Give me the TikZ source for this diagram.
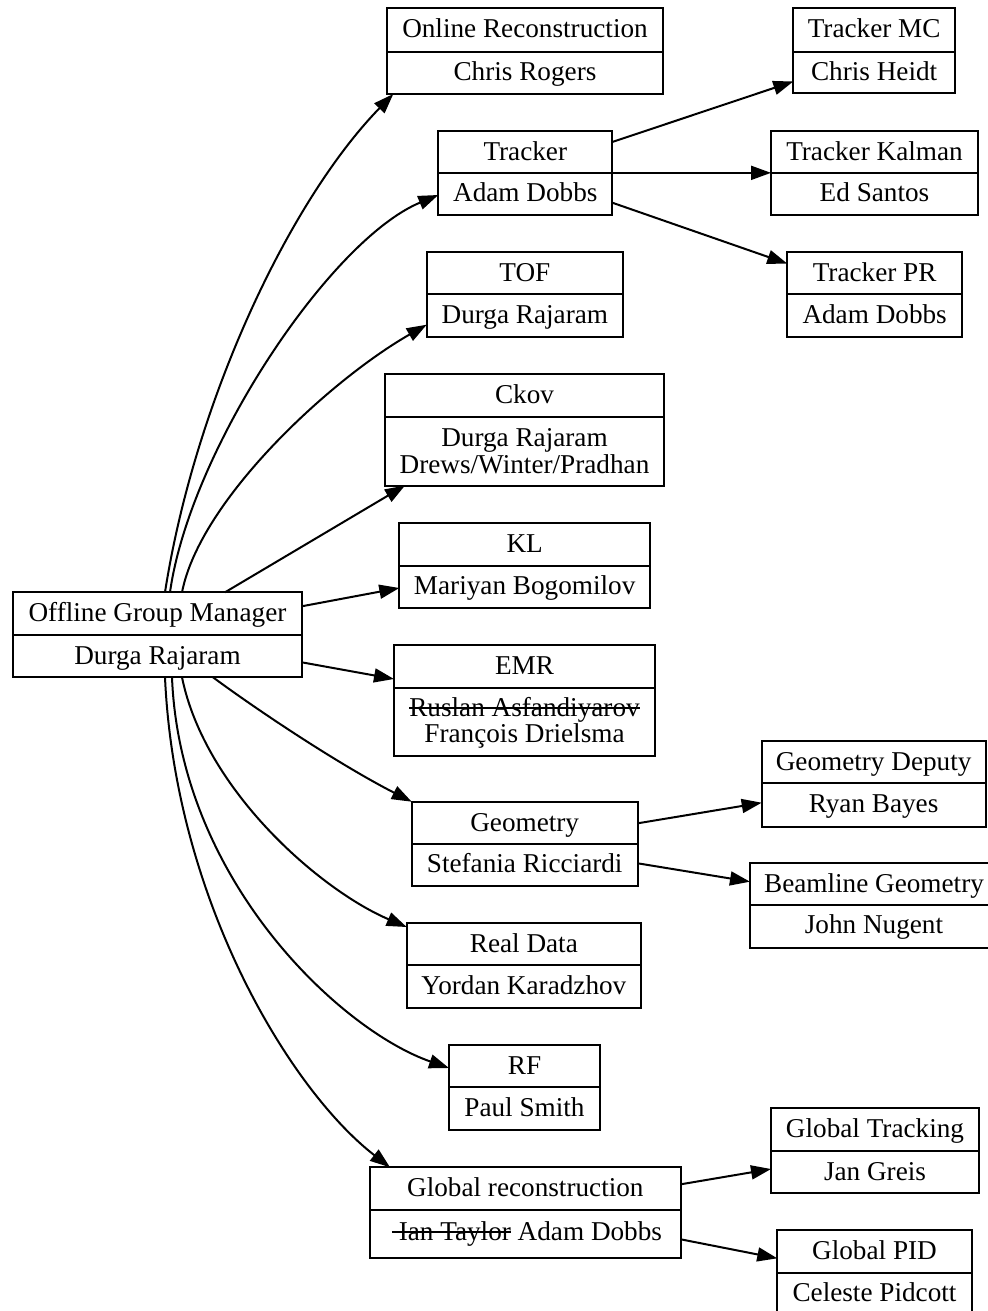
\documentclass[tikz,border=0pt]{standalone}
\usepackage{fontspec}
\setmainfont{Liberation Serif}
\usetikzlibrary{fit,calc,arrows.meta}
\newsavebox\strkbox
\newcommand\strk[1]{\sbox\strkbox{#1}\rlap{\rule[0.27em]{\wd\strkbox}{0.85pt}}\usebox\strkbox}
% name, x1, y1, ydiv, x2, y2, top text, bottom text
\newcommand\rbox[8]{%
  \node[boxst, fit={(#2,#3)(#5,#6)}] (#1) {};
  \draw[line width=1pt] (#2,#4) -- (#5,#4);
  \node[lbl] at ({(#2+#5)/2},{#3+29.5}) {#7};
  \node[lbl] at ({(#2+#5)/2},{#4+29}) {#8};
}
\tikzset{
  boxst/.style={draw, line width=1pt, inner sep=0pt, outer sep=0pt},
  lbl/.style={anchor=base, inner sep=0pt, font=\fontsize{13.6}{16}\selectfont},
  conn/.style={line width=1pt, -{Triangle[length=10pt,width=7pt]}},
}
\begin{document}
\begin{tikzpicture}[x=0.5pt,y=-0.5pt]
\useasboundingbox (0,0) rectangle (987,1311);
\rbox{onl}{387.3}{8.3}{51.7}{662.7}{94}{Online Reconstruction}{Chris Rogers}
\rbox{mc}{793.3}{8.3}{51.7}{955}{93.5}{Tracker MC}{Chris Heidt}
\rbox{trk}{438.3}{130.7}{172.8}{612.3}{215}{Tracker}{Adam Dobbs}
\rbox{kal}{771}{130.7}{172.8}{978}{215}{Tracker Kalman}{Ed Santos}
\rbox{tof}{426.7}{252}{294.3}{623}{336.7}{TOF}{Durga Rajaram}
\rbox{pr}{787.3}{252}{294.3}{962}{336.7}{Tracker PR}{Adam Dobbs}
\rbox{ckov}{385}{374}{416.7}{664}{485.5}{Ckov}{}
\node[lbl] at (524.5,446.5) {Durga Rajaram};
\node[lbl] at (524.5,473) {Drews/Winter/Pradhan};
\rbox{kl}{399.3}{523}{565.5}{650}{608}{KL}{Mariyan Bogomilov}
\rbox{mgr}{13.3}{592.3}{635}{301.7}{677.3}{Offline Group Manager}{Durga Rajaram}
\rbox{emr}{394}{645}{687.7}{655}{755.7}{EMR}{}
\node[lbl] at (524.5,716) {\strk{Ruslan Asfandiyarov}};
\node[lbl] at (524.5,742.5) {François Drielsma};
\rbox{dep}{761.7}{741}{783}{985.5}{826.7}{Geometry Deputy}{Ryan Bayes}
\rbox{geo}{411.7}{801.7}{843.7}{637.7}{886}{Geometry}{Stefania Ricciardi}
\rbox{beam}{750}{862.7}{904.7}{998}{948.3}{}{John Nugent}
\node[lbl] at (874,892) {Beamline Geometry};
\rbox{real}{406.7}{923}{965}{641}{1007.5}{Real Data}{Yordan Karadzhov}
\rbox{rf}{449}{1044.5}{1087}{600}{1129.5}{RF}{Paul Smith}
\rbox{gtr}{771}{1108.3}{1151}{979}{1192.7}{Global Tracking}{Jan Greis}
\rbox{glob}{370}{1167.3}{1210}{680.7}{1258.3}{Global reconstruction}{}
\node[lbl] at (527,1240) {\strk{\ Ian Taylor} Adam Dobbs};
\rbox{pid}{777.3}{1230}{1272.7}{971.7}{1315}{Global PID}{Celeste Pidcott}
% connectors from manager
\draw[conn] ($(mgr.north)+(7.5,0)$) .. controls (195,400) and (290,200) .. ($(onl.south west)+(6,0)$);
\draw[conn] ($(mgr.north)+(12.5,0)$) .. controls (190,450) and (330,240) .. ($(trk.south west)+(0,-20)$);
\draw[conn] ($(mgr.north)+(24.5,0)$) .. controls (200,500) and (330,380) .. ($(tof.south west)+(0,-12)$);
\draw[conn] ($(mgr.north)+(67.5,0)$) -- ($(ckov.south west)+(20,0)$);
\draw[conn] ($(mgr.north east)+(0,14)$) -- ($(kl.south west)+(0,-20)$);
\draw[conn] ($(mgr.south east)+(0,-15)$) -- ($(emr.north west)+(0,34)$);
\draw[conn] ($(mgr.south)+(55.5,0)$) .. controls (260,712) and (340,765) .. (geo.north west);
\draw[conn] ($(mgr.south)+(24.5,0)$) .. controls (205,790) and (320,890) .. ($(real.north west)+(0,4)$);
\draw[conn] ($(mgr.south)+(14.5,0)$) .. controls (180,880) and (340,1030) .. ($(rf.west)+(0,-19)$);
\draw[conn] ($(mgr.south)+(7.5,0)$) .. controls (175,900) and (290,1090) .. ($(glob.north west)+(20,0)$);
% right side
\draw[conn] ($(trk.north east)+(0,11.3)$) -- ($(mc.south west)+(0,-12)$);
\draw[conn] (trk.east) -- (kal.west);
\draw[conn] ($(trk.south east)+(0,-12.3)$) -- ($(pr.north west)+(0,11.6)$);
\draw[conn] ($(geo.north east)+(0,21.6)$) -- ($(dep.south west)+(0,-24)$);
\draw[conn] ($(geo.south east)+(0,-22.7)$) -- ($(beam.north west)+(0,19)$);
\draw[conn] ($(glob.north east)+(0,17)$) -- ($(gtr.south west)+(0,-23.7)$);
\draw[conn] ($(glob.south east)+(0,-19)$) -- ($(pid.north west)+(0,28.3)$);
\end{tikzpicture}
\end{document}
